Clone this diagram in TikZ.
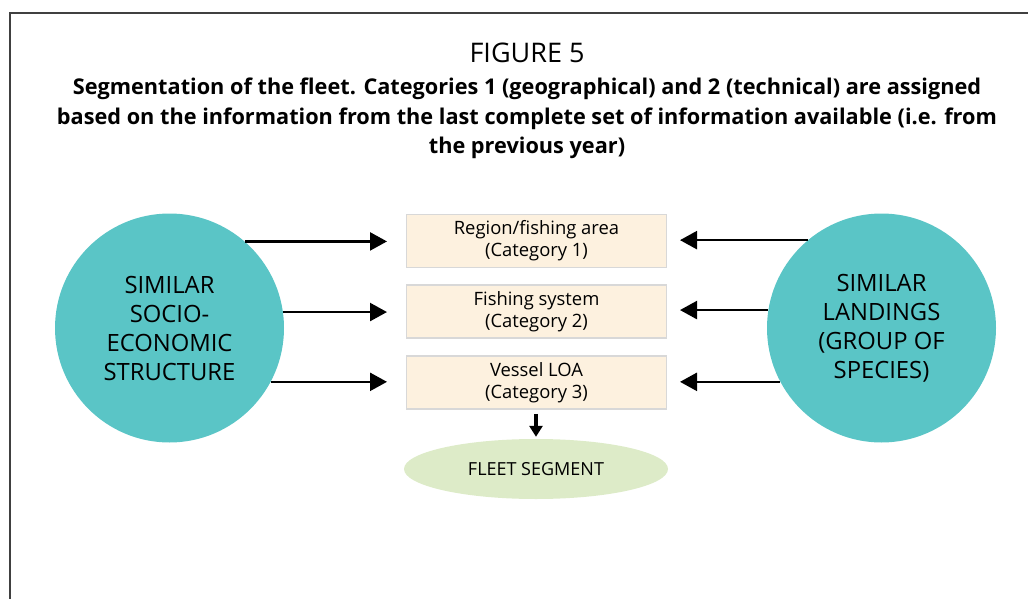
\documentclass[tikz,border=0pt]{standalone}
\usepackage{fontspec}
\setmainfont{Open Sans}
\usetikzlibrary{arrows.meta,shapes.geometric}
\definecolor{teal}{HTML}{5AC5C6}
\definecolor{cream}{HTML}{FDF1DF}
\definecolor{boxline}{HTML}{D8D8D8}
\definecolor{sage}{HTML}{DDEBC8}
\definecolor{frame}{HTML}{404040}
\tikzset{
  hub/.style={circle, fill=teal, minimum size=229pt, inner sep=0pt, align=center,
    font=\fontsize{23.8}{29}\selectfont},
  catbox/.style={rectangle, fill=cream, draw=boxline, line width=1.5pt,
    minimum width=260pt, minimum height=53pt, inner sep=0pt, align=center,
    font=\fontsize{18.4}{22}\selectfont},
  segment/.style={ellipse, fill=sage, minimum width=264pt, minimum height=60pt,
    inner sep=0pt, font=\fontsize{18}{20}\selectfont},
  feed/.style={line width=2.4pt, -{Triangle[length=17pt,width=18pt]}},
  drop/.style={line width=3.5pt, -{Triangle[length=11pt,width=13pt]}},
}
\begin{document}
\begin{tikzpicture}[x=1pt,y=-1pt]
\useasboundingbox (0,0) rectangle (1028,599);
% open frame: top and left rules
\draw[frame, line width=2pt] (1028,13) -- (10,13) -- (10,599);

% heading
\node (fig) at (527,53) {\fontsize{27}{30}\selectfont FIGURE 5};
\node[align=center, font=\bfseries\fontsize{21.7}{29.5}\selectfont] (cap) at (527,118.5)
  {Segmentation of the fleet. Categories 1 (geographical) and 2 (technical) are assigned\\
   based on the information from the last complete set of information available (i.e. from\\
   the previous year)};

% sources
\node[hub] (L) at (169.5,328) {SIMILAR\\SOCIO-\\ECONOMIC\\STRUCTURE};
\node[hub] (R) at (881.5,328) {SIMILAR\\LANDINGS\\(GROUP OF\\SPECIES)};

% categories
\node[catbox] (B1) at (536.5,241)   {Region/fishing area\\(Category 1)};
\node[catbox] (B2) at (536.5,311.5) {Fishing system\\(Category 2)};
\node[catbox] (B3) at (536.5,382.5) {Vessel LOA\\(Category 3)};

% result
\node[segment] (S) at (536,469) {FLEET SEGMENT};

% arrow tips in front of the boxes
\coordinate (l1) at (387,241);
\coordinate (l2) at (387,311.5);
\coordinate (l3) at (387,382.5);
\coordinate (r1) at (680,241);
\coordinate (r2) at (680,311.5);
\coordinate (r3) at (680,382.5);

\draw[feed] (L.49.45) -- (L.49.45 -| l1);
\draw[feed] (L.8.3)   -- (L.8.3 -| l2);
\draw[feed] (L.-28.4) -- (L.-28.4 -| l3);
\draw[feed] (R.130.55) -- (R.130.55 -| r1);
\draw[feed] (R.171.7)  -- (R.171.7 -| r2);
\draw[feed] (R.208.4)  -- (R.208.4 -| r3);

\draw[drop, shorten <=4pt, shorten >=2pt] (B3.south -| S.north) -- (S.north);
\end{tikzpicture}
\end{document}
